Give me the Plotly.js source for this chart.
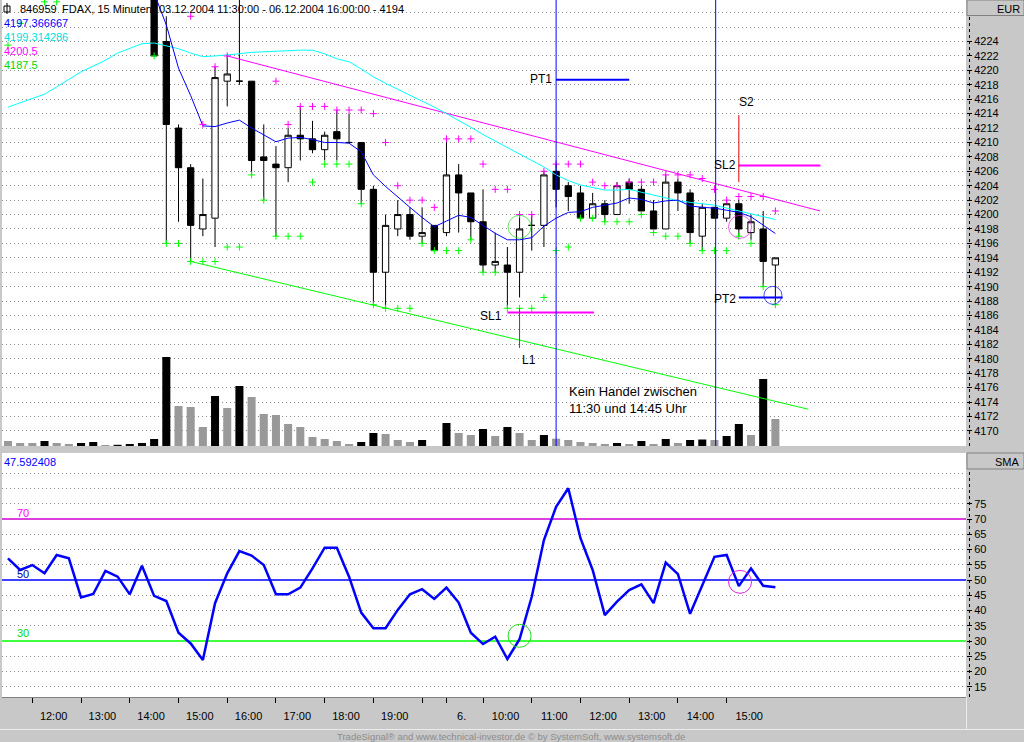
<!DOCTYPE html>
<html>
<head>
<meta charset="utf-8">
<script src="https://cdn.plot.ly/plotly-3.0.1.min.js"></script>
<style>
  html, body { margin: 0; padding: 0; background: #c8c8c8; }
  #chart { width: 1024px; height: 742px; }
</style>
</head>
<body>
<div id="chart"></div>
<script>
var FONT = 'Liberation Sans, Arial, sans-serif';

// FDAX 15 min bars, 03.12.2004 11:30 - 06.12.2004 16:00
var barTime = [
  '03.12. 11:30', '11:45', '12:00', '12:15', '12:30', '12:45', '13:00', '13:15', '13:30', '13:45',
  '14:00', '14:15', '14:30', '14:45', '15:00', '15:15', '15:30', '15:45', '16:00', '16:15',
  '16:30', '16:45', '17:00', '17:15', '17:30', '17:45', '18:00', '18:15', '18:30', '18:45',
  '19:00', '19:15', '19:30', '19:45', '20:00', '20:15',
  '06.12. 09:15', '09:30', '09:45', '10:00', '10:15', '10:30', '10:45', '11:00', '11:15', '11:30',
  '11:45', '12:00', '12:15', '12:30', '12:45', '13:00', '13:15', '13:30', '13:45', '14:00',
  '14:15', '14:30', '14:45', '15:00', '15:15', '15:30', '15:45', '16:00'
];

// bars 0-11 lie above the visible price range
var barOpen = [null, null, null, null, null, null, null, null, null, null, null, null,
  4234, 4224, 4212, 4206.5, 4198, 4199.5, 4218.5, 4218.5, 4218.5, 4208,
  4207, 4206.5, 4211, 4210.5, 4209, 4211.5, 4210, 4210, 4203.5, 4192,
  4198, 4200, 4197, 4198.5, 4197.5, 4205.5, 4203, 4199, 4193, 4193,
  4192, 4198.5, 4198.5, 4206, 4204, 4203, 4199.5, 4201.5, 4200, 4204.5,
  4203.5, 4200.5, 4198, 4204.5, 4203, 4197, 4201, 4199.5, 4201.5, 4197.5,
  4198, 4193];
var barHigh = [null, null, null, null, null, null, null, null, null, null, null, null,
  4236, 4227.5, 4212.5, 4207, 4205, 4220.5, 4222, 4231, 4218.5, 4212.5,
  4209.5, 4212, 4215, 4213, 4211.5, 4214.5, 4214, 4210, 4204, 4200,
  4202, 4201, 4201, 4198.5, 4210.5, 4207, 4203, 4203.5, 4197.5, 4195.5,
  4200, 4200, 4206, 4207, 4204.5, 4204, 4203, 4202, 4204.5, 4205,
  4204, 4202, 4205.5, 4205, 4203.5, 4201.5, 4201, 4202, 4202, 4200,
  4200.5, 4194];
var barLow = [null, null, null, null, null, null, null, null, null, null, null, null,
  4222, 4196, 4199, 4193.5, 4197, 4195.5, 4215, 4218, 4205.5, 4202,
  4197, 4204.5, 4207.5, 4208.5, 4207.5, 4207.5, 4210, 4201.5, 4187.5, 4187,
  4197, 4196.5, 4196, 4195, 4197, 4197.5, 4196.5, 4192, 4192, 4187,
  4188.5, 4195, 4195.5, 4201, 4200.5, 4199.5, 4199.5, 4199, 4200, 4201.5,
  4200, 4197.5, 4198, 4200.5, 4196, 4195, 4199.5, 4199, 4197, 4196.5,
  4190, 4187.5];
var barClose = [null, null, null, null, null, null, null, null, null, null, null, null,
  4222, 4212.5, 4206.5, 4198.5, 4200, 4219, 4219.5, 4218.5, 4207.5, 4207.5,
  4206.5, 4211, 4210.5, 4209, 4211, 4210.5, 4210, 4203.5, 4192, 4198.5,
  4200, 4197, 4197.5, 4195, 4205.5, 4203, 4199, 4193, 4193.5, 4192,
  4198, 4198.5, 4205.5, 4203.5, 4202.5, 4199.5, 4201.5, 4200, 4204, 4203.5,
  4200.5, 4198, 4204.5, 4203, 4197.5, 4201, 4199.5, 4201.5, 4198, 4199,
  4193.5, 4194];

// volume, relative bar heights
var volume = [5, 3, 3, 5, 3, 2, 3, 4, 1, 1.2,
  2, 3, 7, 89, 40, 39, 19, 50, 38, 60,
  49, 32, 31, 22, 19, 9, 7, 5, 2, 4,
  13, 12, 6, 4, 6, 0, 23, 13, 11, 17,
  10, 19, 13, 6, 11, 7.3, 6, 4, 3, 2,
  3, 2, 5, 2, 7, 3, 6, 6.5, 6, 10,
  22, 11, 67, 27];

var maShort = [null, null, null, null, null, null, null, null, null, null, null, null,
  4230.7, 4226.3, 4220.3, 4216.5, 4212.3, 4212.2, 4212.7, 4213.1, 4212.0, 4211.0,
  4210.1, 4210.6, 4210.7, 4210.4, 4210.0, 4210.0, 4209.9, 4208.7, 4205.5, 4203.9,
  4202.4, 4201.0, 4199.6, 4198.3, 4199.1, 4199.9, 4199.6, 4198.5, 4197.4, 4196.5,
  4196.5, 4196.8, 4198.4, 4199.5, 4200.3, 4200.4, 4201.0, 4201.3, 4201.6, 4202.3,
  4202.1, 4201.6, 4201.9, 4202.0, 4201.2, 4201.0, 4200.9, 4200.6, 4200.3, 4199.7,
  4198.5, 4197.37];
var maLong = [4214.9, 4215.5, 4216.0, 4216.7, 4217.7, 4218.7, 4219.8, 4220.6, 4221.4, 4222.4,
  4223.1, 4223.7, 4223.8, 4223.4, 4223.0, 4222.4, 4221.9, 4222.0, 4222.1, 4222.3,
  4222.5, 4222.6, 4222.7, 4222.8, 4222.8, 4222.8, 4222.3, 4221.6, 4221.2, 4220.2,
  4219.1, 4218.2, 4217.4, 4216.6, 4215.7, 4214.9, 4214.0, 4213.1, 4212.1, 4211.1,
  4210.2, 4209.4, 4208.4, 4207.6, 4206.6, 4205.5, 4204.7, 4204.1, 4203.7, 4203.4,
  4203.4, 4203.5, 4203.1, 4202.7, 4202.3, 4201.9, 4201.7, 4201.5, 4201.3, 4200.9,
  4200.5, 4200.1, 4199.8, 4199.31];

// channel dots (magenta above, green below)
var dotHigh = [null, null, null, null, null, null, null, null, null, null, null, null, null, null, null,
  4227.5, 4212.5, 4220.5, 4222, null, null, null,
  4218.5, 4212.5, 4215, 4215, 4215, 4214.5, 4214.5, 4214.5,
  4214, 4210, 4204, 4202, 4202, 4201, 4210.5, 4210.5, 4210.5, 4207,
  4203.5, 4203.5, 4200, 4200, 4206, 4207, 4207, 4207, 4204.5, 4204,
  4204, 4204.5, 4204.5, 4204.5, 4205.5, 4205.5, 4205.5, 4205, 4203.5, 4202,
  4202.5, 4202.5, 4202.5, 4200.5];
var dotLow = [4223.5, 4226.5, null, 4229.5, 4229.5, null, null, null, null, null, null, null,
  4222, 4196, 4196, 4193.5, 4193.5, 4193.5, 4195.5, 4195.5, 4205.5, 4202,
  4197, 4197, 4197, 4204.5, 4207, 4207, 4207, 4201.5, 4187.5, 4187,
  4187, 4187, 4196, 4195, 4195, 4195, 4196.5, 4192, 4192, 4187,
  4187, 4187, 4188.5, 4195, 4195.5, 4199.5, 4199.5, 4199, 4199, 4199,
  4200, 4197.5, 4197, 4197, 4196, 4195, 4195, 4195, 4197, 4196,
  4190, 4187.5];

var rsi = [57.1, 53.3, 54.9, 52.2, 58.2, 57.1, 44.3, 45.4, 53.0, 51.1,
  45.3, 54.7, 44.8, 43.1, 32.7, 29.2, 23.8, 42.4, 52.2, 59.5,
  58.0, 54.9, 45.3, 45.3, 47.5, 53.8, 60.6, 60.6, 51.1, 39.3,
  34.2, 34.2, 40.2, 45.3, 47.0, 43.8, 47.5, 42.6, 32.7, 29.0,
  31.4, 24.1, 30.6, 44.5, 63.1, 74.0, 80.1, 63.7, 53.3, 38.5,
  42.9, 46.7, 48.6, 42.4, 55.7, 51.9, 38.9, 48.4, 57.6, 58.2,
  48.0, 53.8, 48.1, 47.59];
var rsiLevels = [70, 50, 30];
var rsiLevelColor = ['#d000d0', '#0000ff', '#00ff00'];
var rsiLevelTextColor = ['#ff00ff', '#000099', '#00dd00'];

// drawn objects (bar index, price)
var trendUpperIdx = [18, 66.67], trendUpperPrice = [4222, 4200.5];
var trendLowerIdx = [15, 65.7], trendLowerPrice = [4193.5, 4173];
var targetName = ['PT1', 'SL1', 'SL2', 'PT2'];
var targetPrice = [4218.7, 4186.4, 4206.8, 4188.5];
var targetFrom = [45, 41, 60, 60];
var targetTo = [51, 48.1, 66.7, 63.6];
var targetColor = ['#0000ff', '#ff00ff', '#ff00ff', '#0000ff'];
var signalIdx = [42, 60], signalTop = [4187, 4213.8], signalBottom = [4181.5, 4204.5];
var signalColor = ['#008000', '#e00000'];
var breakIdx = [45, 58.1];
var circleIdx = [42, 60.1, 62.8], circlePrice = [4198.3, 4198.3, 4188.8];
var rsiCircleIdx = [42, 60.1], rsiCircleVal = [31.7, 49.4];

var legendValues = ['4197.366667', '4199.314286', '4200.5', '4187.5'];
var legendColors = ['#0000ff', '#00e0e0', '#ff00ff', '#00d800'];

var hourTickIdx = [2, 6, 10, 14, 18, 22, 26, 30, 34, 36, 39, 43, 47, 51, 55, 59];
var hourLabel = ['12:00', '13:00', '14:00', '15:00', '16:00', '17:00', '18:00', '19:00', '6.',
  '10:00', '11:00', '12:00', '13:00', '14:00', '15:00'];
var hourLabelIdx = [3.75, 7.75, 11.75, 15.75, 19.75, 23.75, 27.75, 31.75, 37.25,
  40.85, 44.85, 48.85, 52.85, 56.85, 60.85];
var priceTicks = [4170, 4172, 4174, 4176, 4178, 4180, 4182, 4184, 4186, 4188, 4190, 4192, 4194,
  4196, 4198, 4200, 4202, 4204, 4206, 4208, 4210, 4212, 4214, 4216, 4218, 4220, 4222, 4224];
var rsiTicks = [15, 20, 25, 30, 35, 40, 45, 50, 55, 60, 65, 70, 75];
var rsiGrid = [15, 20, 25, 35, 40, 45, 55, 60, 65, 75, 80, 85];

var barIdx = barTime.map(function (t, i) { return i; });
var volColor = volume.map(function (v, i) { return i > 0 && v > volume[i - 1] ? '#000000' : '#999999'; });

// pixel -> paper helpers (plot area 2..966 x 0..697)
function px(x) { return (x - 2) / 964; }
function py(y) { return (697 - y) / 697; }

var traces = [];
traces.push({
  type: 'bar', x: barIdx, y: volume, xaxis: 'x', yaxis: 'y', width: 0.66,
  marker: {color: volColor, line: {width: 0}}, hoverinfo: 'skip'
});
traces.push({
  type: 'scatter', mode: 'lines', x: trendUpperIdx, y: trendUpperPrice, yaxis: 'y2',
  line: {color: '#ff00ff', width: 1}, hoverinfo: 'skip'
});
traces.push({
  type: 'scatter', mode: 'lines', x: trendLowerIdx, y: trendLowerPrice, yaxis: 'y2',
  line: {color: '#00ff00', width: 1}, hoverinfo: 'skip'
});
traces.push({
  type: 'candlestick', x: barIdx, open: barOpen, high: barHigh, low: barLow, close: barClose,
  xaxis: 'x', yaxis: 'y2', whiskerwidth: 0,
  increasing: {line: {color: '#000000', width: 1}, fillcolor: '#ffffff'},
  decreasing: {line: {color: '#000000', width: 1}, fillcolor: '#000000'},
  hoverinfo: 'skip'
});
traces.push({
  type: 'scatter', mode: 'lines', x: barIdx, y: maLong, yaxis: 'y2',
  line: {color: '#00ffff', width: 1}, hoverinfo: 'skip'
});
traces.push({
  type: 'scatter', mode: 'lines', x: barIdx, y: maShort, yaxis: 'y2',
  line: {color: '#0000ff', width: 1}, hoverinfo: 'skip'
});
traces.push({
  type: 'scatter', mode: 'markers', x: barIdx, y: dotHigh, yaxis: 'y2',
  marker: {symbol: 'cross-thin', size: 5, color: '#ff00ff', line: {color: '#ff00ff', width: 1}},
  hoverinfo: 'skip'
});
traces.push({
  type: 'scatter', mode: 'markers', x: barIdx, y: dotLow, yaxis: 'y2',
  marker: {symbol: 'cross-thin', size: 5, color: '#00ff00', line: {color: '#00ff00', width: 1}},
  hoverinfo: 'skip'
});
targetName.forEach(function (n, k) {
  traces.push({
    type: 'scatter', mode: 'lines', x: [targetFrom[k], targetTo[k]], y: [targetPrice[k], targetPrice[k]],
    yaxis: 'y2', line: {color: targetColor[k], width: 2}, hoverinfo: 'skip'
  });
});
signalIdx.forEach(function (s, k) {
  traces.push({
    type: 'scatter', mode: 'lines', x: [s, s], y: [signalTop[k], signalBottom[k]],
    yaxis: 'y2', line: {color: signalColor[k], width: 1}, hoverinfo: 'skip'
  });
});
traces.push({
  type: 'scatter', mode: 'markers', x: circleIdx, y: circlePrice, yaxis: 'y2',
  marker: {symbol: 'circle-open', size: [23, 23, 18], color: ['#22dd22', '#e020e0', '#0000ff'],
    line: {width: 1}},
  hoverinfo: 'skip'
});
traces.push({
  type: 'scatter', mode: 'lines', x: barIdx, y: rsi, yaxis: 'y3',
  line: {color: '#0000ff', width: 2.5}, hoverinfo: 'skip'
});
traces.push({
  type: 'scatter', mode: 'markers', x: rsiCircleIdx, y: rsiCircleVal, yaxis: 'y3',
  marker: {symbol: 'circle-open', size: 23, color: ['#22dd22', '#e020e0'], line: {width: 1}},
  hoverinfo: 'skip'
});

var gridStyle = {color: '#8c8c8c', dash: '1px,3px'};

var shapes = [];
breakIdx.forEach(function (b) {
  shapes.push({type: 'line', xref: 'x', yref: 'y domain', x0: b, x1: b, y0: 0, y1: 1,
    line: {color: '#0000ff', width: 1}, layer: 'above'});
});
rsiLevels.forEach(function (v, k) {
  shapes.push({type: 'line', xref: 'x domain', yref: 'y3', x0: 0, x1: 1, y0: v, y1: v,
    line: {color: rsiLevelColor[k], width: 1.3}, layer: 'below'});
});
// axis header boxes
shapes.push({type: 'rect', xref: 'paper', yref: 'paper', x0: px(967), x1: px(1024), y0: py(15.5), y1: py(0),
  fillcolor: '#c8c8c8', line: {color: '#808080', width: 1}});
shapes.push({type: 'rect', xref: 'paper', yref: 'paper', x0: px(967), x1: px(1024), y0: py(469), y1: py(453),
  fillcolor: '#c8c8c8', line: {color: '#808080', width: 1}});
// dotted axis lines of the right scale
shapes.push({type: 'line', xref: 'paper', yref: 'paper', x0: px(969.5), x1: px(969.5), y0: py(446), y1: py(17),
  line: {color: '#000000', width: 1, dash: 'dot'}});
shapes.push({type: 'line', xref: 'paper', yref: 'paper', x0: px(969.5), x1: px(969.5), y0: py(697), y1: py(470),
  line: {color: '#000000', width: 1, dash: 'dot'}});
// footer separator
shapes.push({type: 'line', xref: 'paper', yref: 'paper', x0: px(0), x1: px(1024), y0: py(729.5), y1: py(729.5),
  line: {color: '#ececec', width: 1}});
shapes.push({type: 'line', xref: 'paper', yref: 'paper', x0: px(966.5), x1: px(966.5), y0: py(729.5), y1: py(697),
  line: {color: '#ececec', width: 1}});
// small symbol icon in the title
shapes.push({type: 'rect', xref: 'paper', yref: 'paper', x0: px(4), x1: px(10), y0: py(12), y1: py(6),
  line: {color: '#000000', width: 1}});
shapes.push({type: 'line', xref: 'paper', yref: 'paper', x0: px(7), x1: px(7), y0: py(14), y1: py(3),
  line: {color: '#000000', width: 1}});

function note(text, x, y, color, size, anchor) {
  return {xref: 'paper', yref: 'paper', x: px(x), y: py(y), text: text, showarrow: false,
    xanchor: anchor || 'left', yanchor: 'middle', borderpad: 0,
    font: {family: FONT, size: size || 11, color: color || '#000000'}};
}
function label(text, i, price, anchor, size) {
  return {xref: 'x', yref: 'y2', x: i, y: price, text: text, showarrow: false,
    xanchor: anchor, yanchor: 'middle', align: 'left', borderpad: 0,
    font: {family: FONT, size: size || 12, color: '#000000'}};
}

var annotations = [
  note('846959', 18.5, 8.5),
  note('FDAX, 15 Minuten', 60.5, 8.5),
  note('03.12.2004 11:30:00 - 06.12.2004 16:00:00 - 4194', 158, 8.5),
  note('EUR', 1021, 8.5, '#000000', 11, 'right'),
  note('SMA', 1021, 461.5, '#000000', 11, 'right'),
  note('47.592408', 2.5, 461.5, '#0000ff'),
  note('TradeSignal\u00ae and www.technical-investor.de \u00a9 by SystemSoft, www.systemsoft.de',
    511, 736, '#8c8c8c', 9.5, 'center'),
  label(targetName[0], 44.75, 4218.8, 'right'),
  label(targetName[1], 40.6, 4186.0, 'right'),
  label('L1', 42.1, 4179.8, 'left'),
  label('S2', 60.6, 4215.6, 'center'),
  label(targetName[2], 59.85, 4206.9, 'right'),
  label(targetName[3], 59.85, 4188.3, 'right'),
  label('Kein Handel zwischen<br>11:30 und 14:45 Uhr', 46.0, 4174.35, 'left', 13)
];
legendValues.forEach(function (v, k) {
  annotations.push(note(v, 2.5, 23.5 + k * 13.7, legendColors[k]));
});
rsiLevels.forEach(function (v, k) {
  annotations.push(note(String(v), 16, [512.7, 574, 633.3][k], rsiLevelTextColor[k]));
});

var layout = {
  width: 1024, height: 742,
  margin: {l: 2, r: 58, t: 0, b: 45, pad: 0},
  paper_bgcolor: '#c8c8c8',
  plot_bgcolor: '#ffffff',
  showlegend: false,
  hovermode: false,
  dragmode: false,
  boxgap: 0.26,
  font: {family: FONT, size: 11, color: '#000000'},
  xaxis: {
    domain: [0, 1], anchor: 'y3', range: [-0.49, 78.65],
    tickmode: 'array', tickvals: hourLabelIdx, ticktext: hourLabel, ticks: '',
    ticklabelstandoff: 9,
    minor: {tickmode: 'array', tickvals: hourTickIdx, ticks: 'outside', ticklen: 5,
      tickcolor: '#000000', tickwidth: 1, showgrid: false},
    showgrid: false, zeroline: false, showline: true, linecolor: '#808080', linewidth: 1,
    tickfont: {family: FONT, size: 11, color: '#000000'},
    rangeslider: {visible: false}, fixedrange: true
  },
  yaxis: {
    domain: [py(446), 1], anchor: 'x', range: [0, 446], visible: false, fixedrange: true
  },
  yaxis2: {
    overlaying: 'y', anchor: 'x', side: 'right', range: [4167.9, 4229.76],
    tickmode: 'array', tickvals: priceTicks, ticktext: priceTicks.map(String),
    ticks: 'outside', ticklen: 5, tickcolor: '#000000', tickwidth: 1,
    showgrid: true, gridcolor: gridStyle.color, griddash: gridStyle.dash, gridwidth: 1,
    minor: {tickmode: 'array', tickvals: [4168, 4226, 4228], ticks: '', showgrid: true,
      gridcolor: gridStyle.color, griddash: gridStyle.dash, gridwidth: 1},
    zeroline: false, showline: false,
    tickfont: {family: FONT, size: 11, color: '#000000'}, fixedrange: true
  },
  yaxis3: {
    domain: [0, py(453)], anchor: 'x', side: 'right', range: [11.64, 91.64],
    tickmode: 'array', tickvals: rsiTicks, ticktext: rsiTicks.map(String),
    ticks: 'outside', ticklen: 5, tickcolor: '#000000', tickwidth: 1,
    showgrid: false,
    minor: {tickmode: 'array', tickvals: rsiGrid, ticks: '', showgrid: true,
      gridcolor: gridStyle.color, griddash: gridStyle.dash, gridwidth: 1},
    zeroline: false, showline: false,
    tickfont: {family: FONT, size: 11, color: '#000000'}, fixedrange: true
  },
  shapes: shapes,
  annotations: annotations
};

Plotly.newPlot('chart', traces, layout, {staticPlot: true, displayModeBar: false});
</script>
</body>
</html>
